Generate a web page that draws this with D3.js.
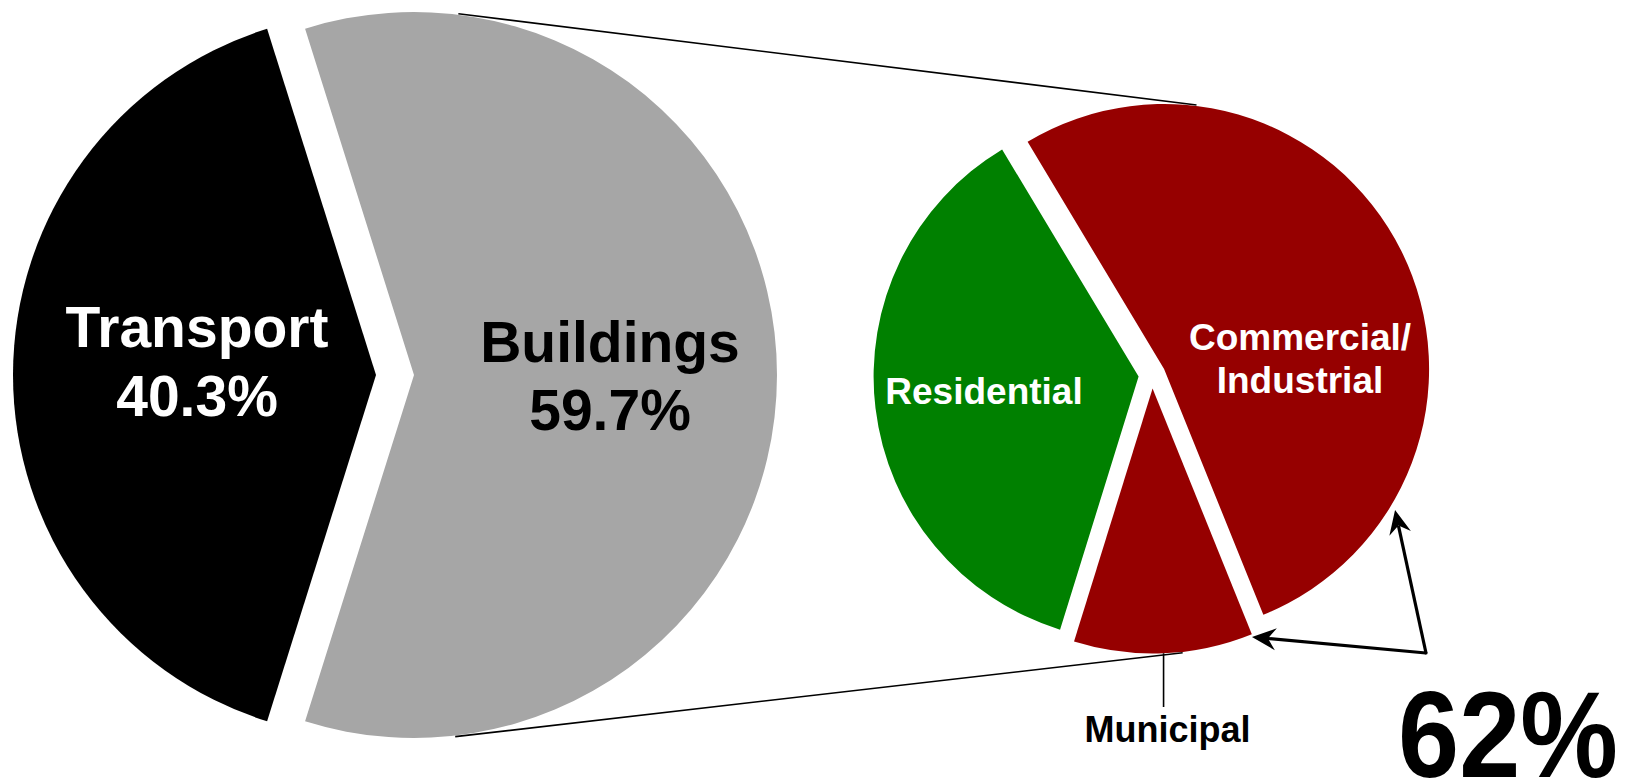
<!DOCTYPE html>
<html><head><meta charset="utf-8">
<script src="https://cdn.jsdelivr.net/npm/d3@7"></script>
<style>
html,body{margin:0;padding:0;background:#fff;}
svg{display:block;}
text{font-family:"Liberation Sans", Arial, sans-serif;font-weight:bold;}
</style>
</head><body>
<svg id="chart" width="1648" height="781"></svg>
<script>
// ---- data ----
const sectorCategories = ["Transport", "Buildings"];
const sectorValues = [40.3, 59.7];
const sectorLabels = ["40.3%", "59.7%"];
const buildingCategories = ["Residential", "Commercial/Industrial", "Municipal"];
const buildingValues = [36.6, 52.5, 10.9];
const buildingLabelLines = [["Residential"], ["Commercial/", "Industrial"], ["Municipal"]];
const annotationLabel = "62%";

// ---- styles / layout ----
const sectorColors = ["#000000", "#a6a6a6"];
const sectorTextColors = ["#ffffff", "#000000"];
const buildingColors = ["#008000", "#960000", "#960000"];
const deg = Math.PI / 180;
const L = {cx: 395, cy: 375, r: 363, explode: 19};
const R = {cx: 1152, cy: 375, r: 265, explode: 13.5};

const svg = d3.select("#chart");
const polar = (c, a, r) => [c[0] + r * Math.sin(a), c[1] - r * Math.cos(a)];

// ---- left pie ----
const sumL = d3.sum(sectorValues);
const startL = -Math.PI / 2 - Math.PI * sectorValues[0] / sumL;
const pieL = d3.pie().sort(null).value(d => d).startAngle(startL).endAngle(startL + 2 * Math.PI);
const arcL = d3.arc().innerRadius(0).outerRadius(L.r);
const arcsL = pieL(sectorValues);
const centersL = arcsL.map(a => {
  const m = (a.startAngle + a.endAngle) / 2;
  return [L.cx + L.explode * Math.sin(m), L.cy - L.explode * Math.cos(m)];
});
const gL = svg.append("g");
gL.selectAll("path").data(arcsL).join("path")
  .attr("transform", (d, i) => `translate(${centersL[i][0]},${centersL[i][1]})`)
  .attr("d", arcL)
  .attr("fill", (d, i) => sectorColors[i]);

// ---- right pie ----
const sumR = d3.sum(buildingValues);
const startR = -31 * deg - 2 * Math.PI * buildingValues[0] / sumR;
const pieR = d3.pie().sort(null).value(d => d).startAngle(startR).endAngle(startR + 2 * Math.PI);
const arcR = d3.arc().innerRadius(0).outerRadius(R.r);
const arcsR = pieR(buildingValues);
const centersR = arcsR.map(a => {
  const m = (a.startAngle + a.endAngle) / 2;
  return [R.cx + R.explode * Math.sin(m), R.cy - R.explode * Math.cos(m)];
});
const gR = svg.append("g");
gR.selectAll("path").data(arcsR).join("path")
  .attr("transform", (d, i) => `translate(${centersR[i][0]},${centersR[i][1]})`)
  .attr("d", arcR)
  .attr("fill", (d, i) => buildingColors[i]);

// ---- connector lines ----
const topA = 7 * deg, botA = 173.5 * deg;
const conn = [
  [polar(centersL[1], topA, L.r + 1), polar(centersR[1], topA, R.r + 1)],
  [polar(centersL[1], botA, L.r + 1), polar(centersR[2], botA, R.r + 1)]
];
svg.selectAll("line.conn").data(conn).join("line").attr("class", "conn")
  .attr("x1", d => d[0][0]).attr("y1", d => d[0][1])
  .attr("x2", d => d[1][0]).attr("y2", d => d[1][1])
  .attr("stroke", "#000").attr("stroke-width", 1.6);

// ---- left labels ----
const leftLabelPos = [[-198, 347, 416], [215, 362, 430]];
sectorCategories.forEach((c, i) => {
  const x = L.cx + leftLabelPos[i][0];
  svg.append("text").attr("x", x).attr("y", leftLabelPos[i][1]).attr("text-anchor", "middle")
    .attr("font-size", 57).attr("fill", sectorTextColors[i]).text(c);
  svg.append("text").attr("x", x).attr("y", leftLabelPos[i][2]).attr("text-anchor", "middle")
    .attr("font-size", 57).attr("fill", sectorTextColors[i]).text(sectorLabels[i]);
});

// ---- right labels ----
const resX = R.cx - 168, resY = 404;
svg.append("text").attr("x", resX).attr("y", resY).attr("text-anchor", "middle")
  .attr("font-size", 37).attr("fill", "#fff").text(buildingLabelLines[0][0]);
buildingLabelLines[1].forEach((t, j) => {
  svg.append("text").attr("x", R.cx + 148).attr("y", 350 + j * 43).attr("text-anchor", "middle")
    .attr("font-size", 37).attr("fill", "#fff").text(t);
});

// municipal leader + label
const munA = (arcsR[2].startAngle + arcsR[2].endAngle) / 2;
const munP = polar(centersR[2], munA, R.r);
svg.append("line").attr("x1", munP[0]).attr("y1", munP[1]).attr("x2", munP[0]).attr("y2", 707)
  .attr("stroke", "#000").attr("stroke-width", 1.6);
svg.append("text").attr("x", munP[0] + 4).attr("y", 742).attr("text-anchor", "middle")
  .attr("font-size", 36).attr("fill", "#000").text(buildingLabelLines[2][0]);

// ---- arrows ----
const corner = [1426, 653];
const tips = [polar(centersR[1], 121.4 * deg, 270.6), polar(centersR[2], 158.2 * deg, 267.7)];
const headLen = 24, headHalf = 11, notch = 8;
tips.forEach(t => {
  const dx = t[0] - corner[0], dy = t[1] - corner[1];
  const len = Math.hypot(dx, dy), ux = dx / len, uy = dy / len;
  const px = -uy, py = ux;
  const nb = [t[0] - ux * (headLen - notch), t[1] - uy * (headLen - notch)];
  svg.append("line").attr("x1", corner[0]).attr("y1", corner[1]).attr("x2", nb[0]).attr("y2", nb[1])
    .attr("stroke", "#000").attr("stroke-width", 3.2);
  const b1 = [t[0] - ux * headLen + px * headHalf, t[1] - uy * headLen + py * headHalf];
  const b2 = [t[0] - ux * headLen - px * headHalf, t[1] - uy * headLen - py * headHalf];
  svg.append("path").attr("d", `M${t}L${b1}L${nb}L${b2}Z`).attr("fill", "#000");
});
svg.append("path").attr("d", `M${tips[1]}`).attr("fill", "none");
svg.append("polyline")
  .attr("points", [tips[0], corner, tips[1]].map(p => p.join(",")).join(" "))
  .attr("fill", "none").attr("stroke", "none");
svg.append("circle").attr("cx", corner[0]).attr("cy", corner[1]).attr("r", 1.6).attr("fill", "#000");

// ---- big annotation ----
svg.append("text").attr("x", 1508).attr("y", 777).attr("text-anchor", "middle")
  .attr("font-size", 122).attr("fill", "#000")
  .attr("transform", "translate(1508,0) scale(0.9,1) translate(-1508,0)")
  .text(annotationLabel);
</script>
</body></html>
